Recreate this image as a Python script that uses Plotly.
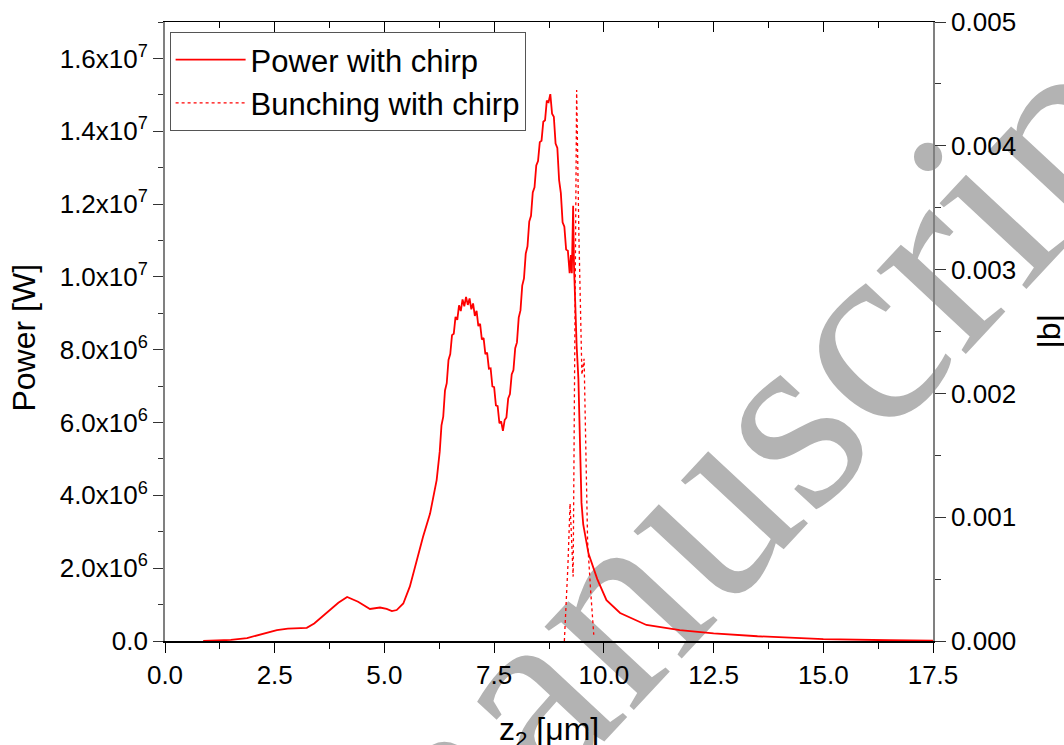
import plotly.graph_objects as go

# ---------------- data ----------------
z_power = [0.87, 1.2, 1.5, 1.87, 2.2, 2.55, 2.8, 3.0, 3.23, 3.4, 3.6, 3.76, 3.95, 4.15, 4.4, 4.67,
           4.9, 5.05, 5.17, 5.28, 5.43, 5.58, 5.73, 5.88, 6.04, 6.19, 6.26,
           6.30, 6.34, 6.38, 6.42, 6.46, 6.50, 6.54, 6.58, 6.62, 6.66, 6.70, 6.74, 6.78, 6.82,
           6.86, 6.90, 6.94, 6.98, 7.02, 7.06, 7.10, 7.14, 7.18, 7.22, 7.26, 7.30, 7.34, 7.38,
           7.42, 7.46, 7.50, 7.54, 7.58, 7.62, 7.66, 7.70, 7.74, 7.78, 7.82, 7.86, 7.90, 7.94,
           7.98, 8.02, 8.06, 8.10, 8.14, 8.18, 8.22, 8.26, 8.30, 8.34, 8.38, 8.42, 8.46, 8.50,
           8.54, 8.58, 8.62, 8.66, 8.70, 8.74, 8.78, 8.82, 8.86, 8.90, 8.94, 8.98, 9.02, 9.06,
           9.10, 9.14, 9.18, 9.22, 9.25, 9.27, 9.30, 9.32, 9.34, 9.38, 9.42, 9.46, 9.49, 9.53,
           9.60, 9.65, 9.85, 10.06, 10.37, 10.97, 11.73, 12.5, 13.5, 15.0, 16.5, 17.5]
power_MW = [0.0, 0.01, 0.03, 0.08, 0.18, 0.30, 0.34, 0.35, 0.36, 0.48, 0.68, 0.85, 1.05, 1.21, 1.08, 0.88,
            0.92, 0.88, 0.82, 0.85, 1.03, 1.5, 2.2, 2.86, 3.5, 4.42, 5.2,
            5.92, 6.16, 6.88, 7.08, 7.72, 7.88, 8.40, 8.44, 8.90, 8.82, 9.22, 9.06, 9.38, 9.19,
            9.45, 9.23, 9.41, 9.11, 9.27, 8.93, 9.07, 8.65, 8.71, 8.28, 8.32, 7.88, 7.92, 7.48,
            7.49, 6.99, 6.97, 6.47, 6.45, 5.98, 6.03, 5.77, 6.07, 6.14, 6.66, 6.78, 7.32, 7.44,
            8.04, 8.20, 8.88, 9.08, 9.76, 9.96, 10.64, 10.84, 11.52, 11.68, 12.32, 12.46, 13.06, 13.18,
            13.70, 13.74, 14.26, 14.30, 14.84, 14.80, 15.02, 14.48, 14.40, 13.66, 13.54, 12.66, 12.30, 11.50,
            11.38, 10.75, 10.72, 10.10, 10.60, 10.10, 11.95, 10.30, 9.40, 8.10, 7.20, 5.50, 3.80, 3.20,
            2.70, 2.40, 1.70, 1.12, 0.77, 0.44, 0.30, 0.21, 0.13, 0.05, 0.02, 0.01]

z_bunch = [9.10, 9.18, 9.23, 9.26, 9.30, 9.34, 9.38, 9.43, 9.50, 9.55, 9.58, 9.63, 9.70, 9.77]
bunching = [0.0, 0.0006, 0.00111, 0.0008, 0.00052, 0.0025, 0.00445, 0.0033, 0.00215, 0.00228,
            0.0016, 0.0008, 0.0004, 0.00005]

x_ticks = [0.0, 2.5, 5.0, 7.5, 10.0, 12.5, 15.0, 17.5]
x_ticklabels = ["0.0", "2.5", "5.0", "7.5", "10.0", "12.5", "15.0", "17.5"]
y_ticks = [0, 2e6, 4e6, 6e6, 8e6, 1e7, 1.2e7, 1.4e7, 1.6e7]
y_ticklabels = ["0.0", "2.0x10<sup>6</sup>", "4.0x10<sup>6</sup>", "6.0x10<sup>6</sup>",
                "8.0x10<sup>6</sup>", "1.0x10<sup>7</sup>", "1.2x10<sup>7</sup>",
                "1.4x10<sup>7</sup>", "1.6x10<sup>7</sup>"]
y2_ticks = [0.0, 0.001, 0.002, 0.003, 0.004, 0.005]
y2_ticklabels = ["0.000", "0.001", "0.002", "0.003", "0.004", "0.005"]

# ---------------- figure ----------------
FONT = "Liberation Sans, Arial, sans-serif"
RED = "#FF0000"

fig = go.Figure()
fig.add_trace(go.Scatter(x=z_power, y=[p * 1e6 for p in power_MW], mode="lines",
                         name="Power with chirp", line=dict(color=RED, width=1.8)))
fig.add_trace(go.Scatter(x=z_bunch, y=bunching, mode="lines", yaxis="y2",
                         name="Bunching with chirp",
                         line=dict(color=RED, width=1.3, dash="3px,3px")))
# empty trace to activate the top (inside-tick) axis
fig.add_trace(go.Scatter(x=[], y=[], xaxis="x2", showlegend=False, hoverinfo="skip"))

tickfont = dict(family=FONT, size=26, color="black")
titlefont = dict(family=FONT, size=32, color="black")

fig.update_layout(
    width=1064, height=745,
    margin=dict(l=165, r=131, t=22, b=104),
    paper_bgcolor="white",
    plot_bgcolor="rgba(0,0,0,0)",
    showlegend=True,
    legend=dict(x=0.006, y=0.984, xanchor="left", yanchor="top",
                bordercolor="#555555", borderwidth=1, bgcolor="rgba(255,255,255,0)",
                font=dict(family=FONT, size=31, color="black"),
                itemwidth=70, tracegroupgap=0),
    xaxis=dict(range=[0, 17.5], tickvals=x_ticks, ticktext=x_ticklabels,
               ticks="outside", ticklen=10, tickwidth=1.2, tickcolor="black",
               minor=dict(dtick=1.25, tick0=0, ticks="outside", ticklen=6, tickcolor="black"),
               showline=True, linecolor="black", linewidth=1.6, automargin=False,
               showgrid=False, zeroline=False, tickfont=tickfont),
    xaxis2=dict(range=[0, 17.5], overlaying="x", side="top", anchor="y",
                tickvals=x_ticks, showticklabels=False, automargin=False,
                ticks="inside", ticklen=10, tickwidth=1.2, tickcolor="black",
                minor=dict(dtick=1.25, tick0=0, ticks="inside", ticklen=6, tickcolor="black"),
                showline=True, linecolor="black", linewidth=1.2,
                showgrid=False, zeroline=False),
    yaxis=dict(range=[0, 1.7e7], tickvals=y_ticks, ticktext=y_ticklabels,
               ticks="outside", ticklen=10, tickwidth=1.2, tickcolor="#333333",
               minor=dict(dtick=1e6, tick0=0, ticks="outside", ticklen=5, tickcolor="#333333"),
               showline=True, linecolor="#808080", linewidth=1.8, automargin=False,
               showgrid=False, zeroline=False, tickfont=tickfont),
    yaxis2=dict(range=[0, 0.005], overlaying="y", side="right", anchor="x",
                tickvals=y2_ticks, ticktext=y2_ticklabels, automargin=False,
                ticks="outside", ticklen=11, tickwidth=1.2, tickcolor="#333333",
                minor=dict(dtick=0.0005, tick0=0, ticks="outside", ticklen=6, tickcolor="#333333"),
                showline=True, linecolor="#808080", linewidth=1.8,
                showgrid=False, zeroline=False, tickfont=tickfont),
)

# axis titles as annotations for exact placement
fig.add_annotation(text="z<sub>2</sub> [μm]", xref="paper", yref="paper",
                   x=0.5, y=-0.146, xanchor="center", yanchor="middle",
                   showarrow=False, font=titlefont)
fig.add_annotation(text="Power [W]", xref="paper", yref="paper",
                   x=-0.183, y=0.491, xanchor="center", yanchor="middle", textangle=-90,
                   showarrow=False, font=titlefont)
fig.add_annotation(text="|b|", xref="paper", yref="paper",
                   x=1.151, y=0.5, xanchor="center", yanchor="middle", textangle=-90,
                   showarrow=False, font=titlefont)

# watermark behind the data
fig.add_shape(type="rect", xref="paper", yref="paper",
              x0=0.7145, x1=0.7425, y0=0.3141, y1=0.3381, layer="below",
              line=dict(width=0), fillcolor="rgba(0,0,0,0)",
              label=dict(text="manuscript", textangle=-47, textposition="middle center",
                         font=dict(family="Liberation Serif, Times New Roman, serif",
                                   size=266, color="#B3B3B3")))

fig.write_html("out.html")
